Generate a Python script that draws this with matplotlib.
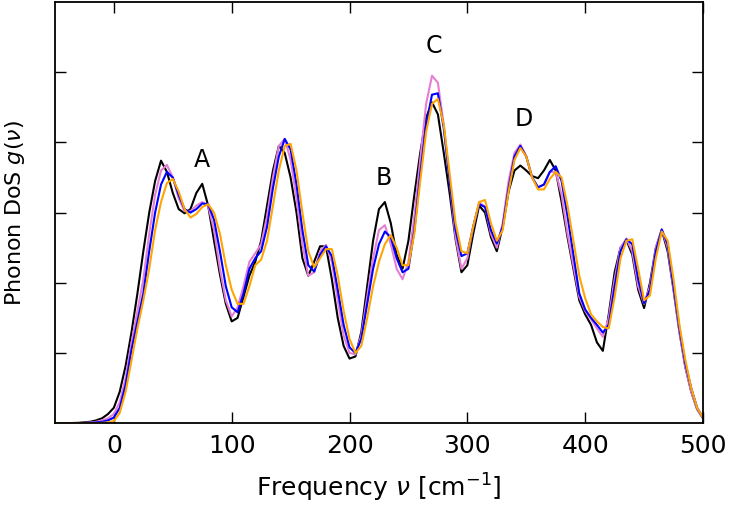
import matplotlib.pyplot as plt

freq = [-50, -40, -30, -20, -15, -10, -5] + list(range(0, 505, 5))

dos_black = [0, 0, 0.005, 0.02, 0.04, 0.07, 0.13,
             0.22, 0.45, 0.82, 1.3, 1.85, 2.45, 3.0, 3.45, 3.74, 3.58,
             3.28, 3.05, 2.99, 3.05, 3.28, 3.41, 3.1, 2.6, 2.12, 1.7,
             1.45, 1.5, 1.8, 2.1, 2.3, 2.6, 3.1, 3.6, 3.95, 3.85,
             3.5, 3.0, 2.35, 2.1, 2.3, 2.52, 2.52, 2.05, 1.5, 1.1,
             0.92, 0.95, 1.3, 1.95, 2.6, 3.05, 3.15, 2.85, 2.4, 2.2,
             2.6, 3.25, 3.85, 4.35, 4.57, 4.4, 3.85, 3.27, 2.62, 2.15,
             2.25, 2.7, 3.1, 3.0, 2.65, 2.45, 2.8, 3.3, 3.6, 3.67,
             3.6, 3.52, 3.49, 3.6, 3.75, 3.6, 3.15, 2.65, 2.2, 1.75,
             1.55, 1.4, 1.15, 1.03, 1.55, 2.15, 2.5, 2.61, 2.4, 1.9,
             1.64, 2.0, 2.5, 2.75, 2.45, 1.9, 1.3, 0.8, 0.45, 0.2,
             0.07]

dos_violet = [0, 0, 0, 0.01, 0.02, 0.04, 0.07,
              0.13, 0.3, 0.65, 1.15, 1.6, 2.05, 2.7, 3.25, 3.6, 3.68,
              3.5, 3.2, 3.02, 3.02, 3.1, 3.15, 3.1, 2.75, 2.2, 1.75,
              1.52, 1.65, 1.95, 2.3, 2.42, 2.55, 2.95, 3.5, 3.95, 4.05,
              3.75, 3.2, 2.55, 2.1, 2.15, 2.45, 2.54, 2.3, 1.75, 1.25,
              1.0, 0.98, 1.25, 1.8, 2.35, 2.75, 2.82, 2.55, 2.2, 2.05,
              2.3, 2.95, 3.75, 4.55, 4.95, 4.85, 4.25, 3.45, 2.65, 2.2,
              2.35, 2.8, 3.15, 3.08, 2.7, 2.5, 2.85, 3.45, 3.85, 3.97,
              3.8, 3.5, 3.36, 3.4, 3.58, 3.58, 3.25, 2.7, 2.25, 1.8,
              1.6, 1.48, 1.35, 1.23, 1.5, 2.05, 2.5, 2.63, 2.45, 1.95,
              1.7, 1.95, 2.5, 2.76, 2.5, 1.9, 1.3, 0.8, 0.45, 0.2,
              0.07]

dos_blue = [0, 0, 0, 0.005, 0.01, 0.02, 0.04,
            0.08, 0.22, 0.55, 1.05, 1.45, 1.85, 2.45, 3.0, 3.4, 3.58,
            3.5, 3.25, 3.05, 3.0, 3.05, 3.13, 3.12, 2.9, 2.45, 1.95,
            1.65, 1.58, 1.85, 2.2, 2.35, 2.45, 2.8, 3.35, 3.8, 4.05,
            3.9, 3.4, 2.75, 2.25, 2.16, 2.4, 2.52, 2.38, 1.9, 1.4,
            1.08, 1.0, 1.2, 1.7, 2.2, 2.55, 2.73, 2.65, 2.35, 2.15,
            2.2, 2.75, 3.55, 4.25, 4.68, 4.7, 4.2, 3.45, 2.75, 2.38,
            2.42, 2.8, 3.12, 3.08, 2.75, 2.56, 2.8, 3.35, 3.8, 3.95,
            3.8, 3.5, 3.36, 3.4, 3.58, 3.66, 3.45, 2.95, 2.4, 1.85,
            1.62, 1.5, 1.4, 1.29, 1.4, 1.95, 2.45, 2.62, 2.55, 2.05,
            1.71, 1.9, 2.45, 2.76, 2.55, 1.95, 1.35, 0.85, 0.5, 0.22,
            0.08]

dos_orange = [0, 0, 0, 0, 0, 0.005, 0.01,
              0.03, 0.15, 0.45, 0.9, 1.35, 1.75, 2.2, 2.75, 3.15, 3.42,
              3.48, 3.3, 3.05, 2.93, 2.98, 3.08, 3.12, 3.0, 2.7, 2.25,
              1.9, 1.7, 1.7, 1.95, 2.25, 2.33, 2.6, 3.1, 3.6, 3.95,
              3.98, 3.6, 3.0, 2.45, 2.22, 2.35, 2.48, 2.48, 2.1, 1.6,
              1.2, 1.0, 1.1, 1.5, 1.95, 2.3, 2.55, 2.68, 2.5, 2.25,
              2.25, 2.7, 3.45, 4.15, 4.55, 4.62, 4.25, 3.55, 2.85, 2.45,
              2.42, 2.8, 3.15, 3.18, 2.85, 2.6, 2.75, 3.3, 3.75, 3.92,
              3.8, 3.5, 3.33, 3.33, 3.48, 3.58, 3.5, 3.1, 2.6, 2.1,
              1.78, 1.55, 1.45, 1.37, 1.35, 1.8, 2.35, 2.6, 2.62, 2.2,
              1.75, 1.82, 2.35, 2.73, 2.6, 2.05, 1.4, 0.9, 0.5, 0.22,
              0.08]

peak_labels = ["A", "B", "C", "D"]
peak_x = [75, 229, 272, 348]
peak_y = [3.75, 3.5, 5.38, 4.33]

fig = plt.figure(figsize=(7.3, 5.08), dpi=100)
ax = fig.add_axes([0.0753, 0.167, 0.8877, 0.829])

ax.plot(freq, dos_black, color="black", lw=1.5)
ax.plot(freq, dos_violet, color="#e57fd4", lw=1.5)
ax.plot(freq, dos_blue, color="blue", lw=1.5)
ax.plot(freq, dos_orange, color="orange", lw=1.5)

for lab, px, py in zip(peak_labels, peak_x, peak_y):
    ax.text(px, py, lab, fontsize=17, ha="center", va="center")

ax.set_xlim(-50, 500)
ax.set_ylim(0, 6)
ax.set_xticks([0, 100, 200, 300, 400, 500])
ax.set_yticks([1, 2, 3, 4, 5])
ax.set_yticklabels([])
ax.tick_params(direction="in", top=True, right=True, length=8, width=1,
               labelsize=18, pad=8)
for s in ax.spines.values():
    s.set_linewidth(1.3)

ax.set_xlabel(r"Frequency $\nu$ [cm$^{-1}$]", fontsize=18, labelpad=10)
ax.set_ylabel(r"Phonon DoS $g(\nu)$", fontsize=16, labelpad=12)

fig.savefig("out.png", dpi=100)
